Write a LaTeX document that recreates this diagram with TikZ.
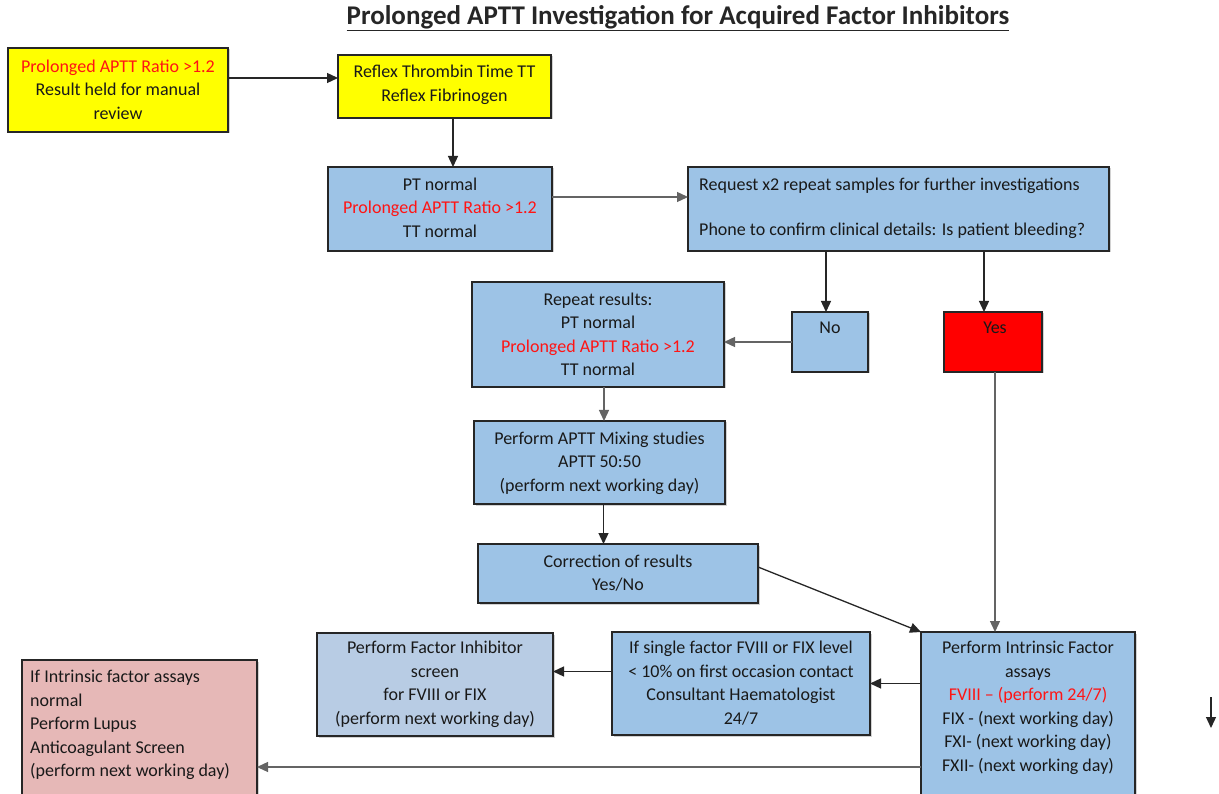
\documentclass[tikz,border=0pt]{standalone}
\usepackage{fontspec}
\setmainfont{Carlito}
\usetikzlibrary{arrows.meta,shadows,calc}
\definecolor{boxblue}{RGB}{157,195,230}
\definecolor{lightblue}{RGB}{184,204,228}
\definecolor{pinkbox}{RGB}{230,184,183}
\definecolor{yel}{RGB}{255,255,0}
\definecolor{redbox}{RGB}{255,0,0}
\definecolor{redtxt}{RGB}{255,20,20}
\definecolor{linegray}{RGB}{100,100,100}
\tikzset{
  box/.style={rectangle, draw=black!85, line width=1.3pt, inner sep=0pt, outer sep=0pt, anchor=north west,
     drop shadow={shadow xshift=1.5pt, shadow yshift=-1.5pt, opacity=0.35}},
  txt/.style={inner sep=0pt, align=center, anchor=north, font=\fontsize{18}{23.2}\selectfont, text=black!90},
  ltxt/.style={inner sep=0pt, align=left, anchor=north west, font=\fontsize{18}{23.5}\selectfont, text=black!90},
  arr/.style={line width=1.3pt, draw=black!85, -{Triangle[length=11pt,width=10pt]}},
  garr/.style={line width=1.3pt, draw=linegray, -{Triangle[length=11pt,width=10pt]}}
}
\newcommand{\rt}[1]{\textcolor{redtxt}{#1}}
\begin{document}
\begin{tikzpicture}[x=1pt,y=-1pt]
\useasboundingbox[fill=white] (0,0) rectangle (1219,794);
\clip (0,0) rectangle (1219,794);

\node[font=\bfseries\fontsize{27}{30}\selectfont, text=black!85, inner sep=0pt] (title) at (678,18) {\underline{Prolonged APTT Investigation for Acquired Factor Inhibitors}};

% boxes
\node[box, fill=yel, minimum width=220pt, minimum height=84pt] (A) at (8,48) {};
\node[box, fill=yel, minimum width=213pt, minimum height=63pt] (B) at (338,55) {};
\node[box, fill=boxblue, minimum width=224pt, minimum height=84pt] (C) at (328,167) {};
\node[box, fill=boxblue, minimum width=421pt, minimum height=84pt] (D) at (688,167) {};
\node[box, fill=boxblue, minimum width=76pt, minimum height=60pt] (No) at (792,312) {};
\node[box, fill=redbox, minimum width=98pt, minimum height=60pt] (Yes) at (944,312) {};
\node[box, fill=boxblue, minimum width=252pt, minimum height=105pt] (Rep) at (472,282) {};
\node[box, fill=boxblue, minimum width=251pt, minimum height=83pt] (Mix) at (474,421) {};
\node[box, fill=boxblue, minimum width=280pt, minimum height=59pt] (Cor) at (478,544) {};
\node[box, fill=boxblue, minimum width=214pt, minimum height=180pt] (Int) at (921,632) {};
\node[box, fill=boxblue, minimum width=258pt, minimum height=103pt] (Sin) at (612,632) {};
\node[box, fill=lightblue, minimum width=236pt, minimum height=103pt] (Inh) at (317,633) {};
\node[box, fill=pinkbox, minimum width=235pt, minimum height=150pt] (Lup) at (22,660) {};

% texts
\node[txt] (At) at (118,60) {\rt{Prolonged APTT Ratio >1.2}\\Result held for manual\\review};
\node[txt, font=\fontsize{18}{24}\selectfont] (Bt) at (444.5,65) {Reflex Thrombin Time TT\\Reflex Fibrinogen};
\node[txt] (Ct) at (440,178) {PT normal\\\rt{Prolonged APTT Ratio >1.2}\\TT normal};
\node[ltxt, font=\fontsize{18}{22.5}\selectfont] (Dt) at (699,178) {Request x2 repeat samples for further investigations\\[22.5pt]Phone to confirm clinical details: Is patient bleeding?};
\node[txt] (Not) at (830,322) {No};
\node[txt] (Yest) at (995,322) {Yes};
\node[txt] (Rept) at (598,293) {Repeat results:\\PT normal\\\rt{Prolonged APTT Ratio >1.2}\\TT normal};
\node[txt] (Mixt) at (599.5,432) {Perform APTT Mixing studies\\APTT 50:50\\(perform next working day)};
\node[txt] (Cort) at (618,555) {Correction of results\\Yes/No};
\node[txt, font=\fontsize{18}{23.6}\selectfont] (Intt) at (1028,641) {Perform Intrinsic Factor\\assays\\\rt{FVIII – (perform 24/7)}\\FIX - (next working day)\\FXI- (next working day)\\FXII- (next working day)};
\node[txt, font=\fontsize{18}{23.6}\selectfont] (Sint) at (741,641) {If single factor FVIII or FIX level\\< 10\% on first occasion contact\\Consultant Haematologist\\24/7};
\node[txt, font=\fontsize{18}{23.6}\selectfont] (Inht) at (435,641) {Perform Factor Inhibitor\\screen\\for FVIII or FIX\\(perform next working day)};
\node[ltxt] (Lupt) at (30,670) {If Intrinsic factor assays\\normal\\Perform Lupus\\Anticoagulant Screen\\(perform next working day)};

% connectors
\draw[arr] ([yshift=12pt]A.east) -- ([yshift=12pt]A.east -| B.west);
\draw[arr] ([xshift=8.5pt]B.south) -- ([xshift=8.5pt]B.south |- C.north);
\draw[garr] ([yshift=12pt]C.east) -- ([yshift=12pt]C.east -| D.west);
\draw[arr] ([xshift=-4pt]No.north |- D.south) -- ([xshift=-4pt]No.north);
\draw[arr] ([xshift=-9pt]Yes.north |- D.south) -- ([xshift=-9pt]Yes.north);
\draw[garr] (No.west) -- (No.west -| Rep.east);
\draw[garr] ([xshift=6pt]Rep.south) -- ([xshift=6pt]Rep.south |- Mix.north);
\draw[arr] ([xshift=4pt]Mix.south) -- ([xshift=4pt]Mix.south |- Cor.north);
\draw[arr] ([yshift=6.5pt]Cor.east) -- (Int.north west);
\draw[garr] ([xshift=2pt]Yes.south) -- ([xshift=2pt]Yes.south |- Int.north);
\draw[arr] (Sin.east -| Int.west) -- (Sin.east);
\draw[arr] ([yshift=12pt]Sin.west) -- ([yshift=12pt]Sin.west -| Inh.east);
\draw[garr] ([yshift=-32pt]Lup.east -| Int.west) -- ([yshift=-32pt]Lup.east);

\coordinate (s1) at (1211,697);
\coordinate (s2) at (1211,728);
\draw[arr] (s1) -- (s2);
\end{tikzpicture}
\end{document}
